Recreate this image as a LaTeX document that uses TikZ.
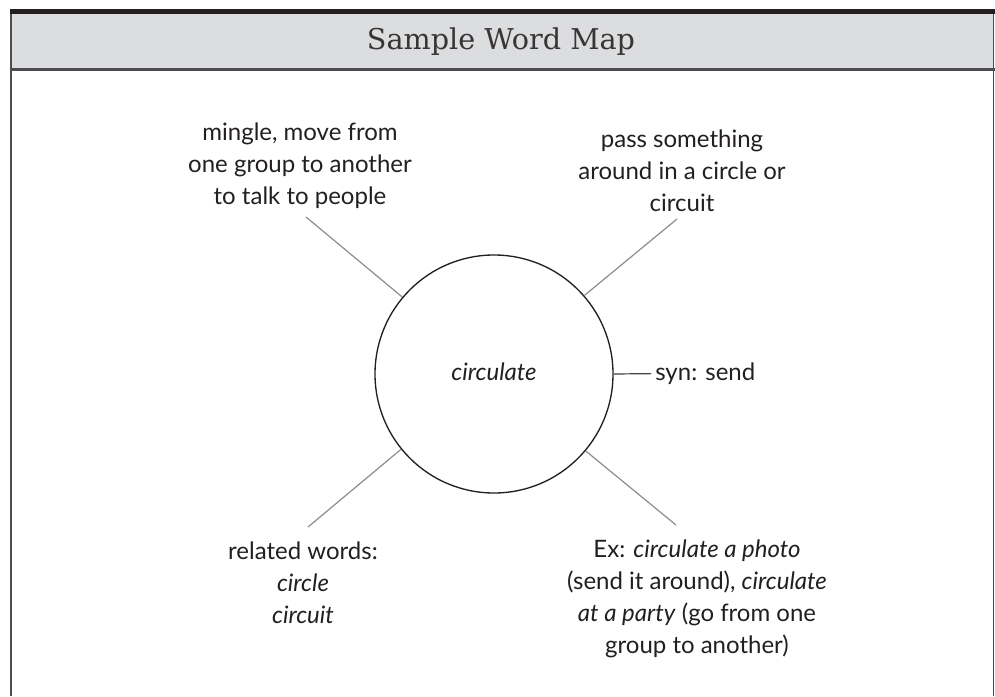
\documentclass[tikz,border=0pt]{standalone}
\usepackage{fontspec}
\setmainfont{Lato}
\newfontfamily\titlefont{DejaVu Serif}
\definecolor{ink}{HTML}{231F20}
\definecolor{framegray}{HTML}{4D4D4F}
\definecolor{headfill}{HTML}{DCDDDF}
\definecolor{spokegray}{HTML}{8C8C8C}
\begin{document}
\begin{tikzpicture}[x=0.75pt,y=-0.75pt,
  lbl/.style={font=\fontsize{18}{24}\selectfont, text=ink, align=center, inner sep=0pt},
  spoke/.style={draw=spokegray, line width=0.9pt},
  hub/.style={circle, draw=ink, line width=1pt, minimum size=178.5pt, inner sep=0pt}]
\path[use as bounding box] (0,0) rectangle (995,696);
% header
\fill[headfill] (11,14) rectangle (993,69);
\fill[ink] (10,9) rectangle (994.5,14);
\draw[framegray, line width=1.6pt] (10,69.5) -- (994.5,69.5);
\draw[framegray, line width=1.6pt] (11,14) -- (11,696);
\draw[framegray, line width=1.2pt] (993.6,14) -- (993.6,696);
\node[font=\titlefont\fontsize{21.5}{24}\selectfont, text=ink!90, anchor=base, inner sep=0pt] (title) at (501,49) {Sample Word Map};
% hub
\node[hub] (c) at (494,374) {};
\node[lbl, anchor=mid, font=\itshape\fontsize{18}{24}\selectfont] (word) at (494,377) {circulate};
% labels
\node[lbl] (ul) at (300,166) {mingle, move from\\one group to another\\to talk to people};
\node[lbl] (ur) at (682,171) {pass something\\around in a circle or\\circuit};
\node[lbl] (ll) at (303,583) {related words:\\\textit{circle}\\\textit{circuit}};
\node[lbl] (lr) at (697,599) {Ex: \textit{circulate a photo}\\(send it around), \textit{circulate}\\\textit{at a party} (go from one\\group to another)};
\node[lbl, anchor=mid west] (syn) at (655,377) {syn: send};
% spoke ends
\coordinate (ulend) at (306,217);
\coordinate (urend) at (677,219);
\coordinate (llend) at (308,527);
\coordinate (lrend) at (676,525);
% spokes
\draw[spoke] (c.140.7) -- (ulend);
\draw[spoke] (c.41) -- (urend);
\draw[spoke] (c.219.2) -- (llend);
\draw[spoke] (c.320.7) -- (lrend);
\draw[ink!85, line width=0.9pt, shorten >=3pt] (c.0) -- (syn.west);
\end{tikzpicture}
\end{document}
